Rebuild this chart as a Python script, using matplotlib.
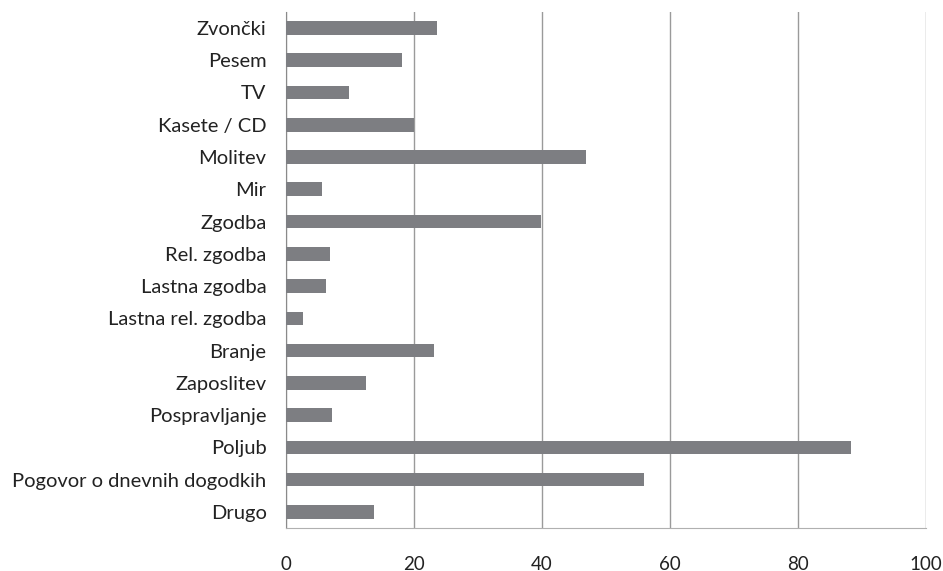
import matplotlib
matplotlib.use("Agg")
import matplotlib.pyplot as plt

###
# Data
###

categories = [
    "Zvončki", "Pesem", "TV", "Kasete / CD", "Molitev", "Mir", "Zgodba",
    "Rel. zgodba", "Lastna zgodba", "Lastna rel. zgodba", "Branje",
    "Zaposlitev", "Pospravljanje", "Poljub", "Pogovor o dnevnih dogodkih",
    "Drugo",
]
values = [23.6, 18.1, 9.8, 20.0, 46.9, 5.7, 39.8, 6.9, 6.2, 2.7, 23.1,
          12.5, 7.2, 88.3, 56.0, 13.7]
x_ticks = [0, 20, 40, 60, 80, 100]

###
# Plot
###

plt.rcParams['font.family'] = ['Lato', 'DejaVu Sans']

fig = plt.figure(figsize=(9.43, 5.71), dpi=100)
ax = fig.add_axes([0.3033, 0.0753, 0.6787, 0.904])

# top category first
y_pos = list(range(len(categories)))[::-1]
ax.barh(y_pos, values, height=0.42, color='#7d7e82', zorder=3)

ax.set_xlim(0, 100)
ax.set_ylim(-0.5, len(categories) - 0.5)
ax.set_xticks(x_ticks)
ax.set_yticks(y_pos)
ax.set_yticklabels(categories)

# vertical gridlines only
ax.grid(axis='x', color='#9a9a9a', linewidth=1.0, zorder=0)
ax.tick_params(axis='both', length=0, colors='#222222')
ax.tick_params(axis='y', pad=14, labelsize=14.5)
ax.tick_params(axis='x', pad=20, labelsize=13.5)

for side in ['top', 'right']:
    ax.spines[side].set_visible(False)
ax.spines['left'].set_color('#8a8a8a')
ax.spines['bottom'].set_color('#b0b0b0')

fig.savefig('out.png', dpi=100)
